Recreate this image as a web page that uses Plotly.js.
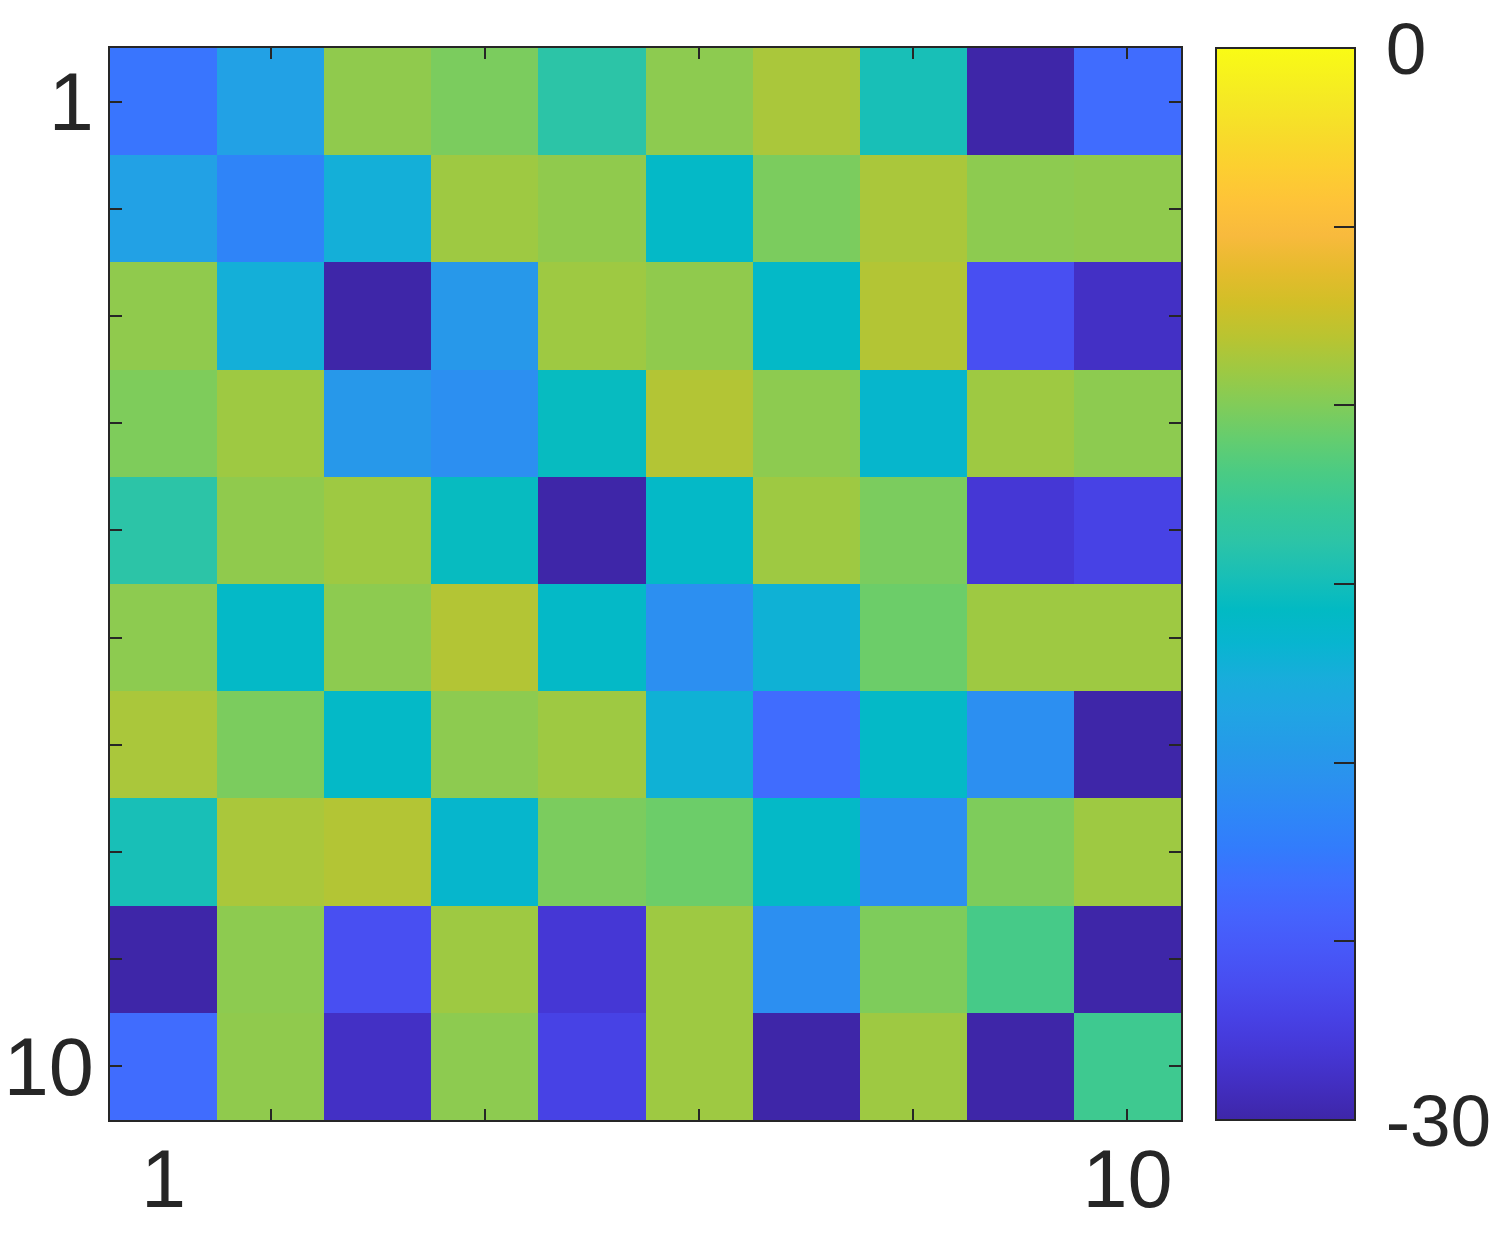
<!DOCTYPE html>
<html>
<head>
<meta charset="utf-8">
<script src="https://cdn.plot.ly/plotly-3.0.1.min.js"></script>
<style>
  body { margin: 0; background: #fff; }
  #plotArea { width: 1498px; height: 1238px; }
</style>
</head>
<body>
<div id="plotArea"></div>
<script>
var rowIdx = [1, 2, 3, 4, 5, 6, 7, 8, 9, 10];
var colIdx = [1, 2, 3, 4, 5, 6, 7, 8, 9, 10];

var row1 = [-22.9, -19.0, -9.5, -10.2, -13.8, -9.6, -8.6, -14.8, -30.0, -23.6];
var row2 = [-19.0, -21.7, -17.4, -9.0, -9.5, -16.0, -10.2, -8.6, -9.6, -9.5];
var row3 = [-9.5, -17.4, -30.0, -19.8, -9.0, -9.5, -16.0, -8.3, -26.0, -28.8];
var row4 = [-10.1, -9.0, -19.8, -20.7, -15.5, -8.3, -9.6, -16.4, -9.0, -9.6];
var row5 = [-13.8, -9.5, -9.0, -15.5, -30.0, -16.0, -9.0, -10.2, -28.1, -27.1];
var row6 = [-9.6, -16.0, -9.6, -8.3, -16.0, -20.7, -17.1, -10.7, -9.0, -9.0];
var row7 = [-8.6, -10.2, -16.0, -9.6, -9.0, -17.1, -23.6, -16.0, -20.7, -30.0];
var row8 = [-14.8, -8.6, -8.3, -16.4, -10.2, -10.7, -16.0, -20.7, -10.1, -9.0];
var row9 = [-30.0, -9.6, -26.0, -9.0, -28.1, -9.0, -20.7, -10.1, -12.1, -30.0];
var row10 = [-23.6, -9.5, -28.8, -9.6, -27.1, -9.0, -30.0, -9.0, -30.0, -12.5];

var zRows = [row1, row2, row3, row4, row5, row6, row7, row8, row9, row10];

var xTickMarks = [2, 4, 6, 8, 10];
var xLabelVals = [1, 10];
var xLabelText = ["1", "10"];
var yLabelText = ["1", "", "", "", "", "", "", "", "", "10"];
var cbTickVals = [-30, -25, -20, -15, -10, -5, 0];
var cbTickText = ["\u2009-30", "", "", "", "", "", "\u20090"];

// parula, sampled from the 64-entry map
var parulaIdx = [0, 2, 4, 6, 8, 10, 12, 14, 16, 18, 20, 22, 24, 26, 28, 30, 32,
  34, 36, 38, 40, 42, 44, 46, 48, 50, 52, 54, 56, 58, 60, 63];
var parulaRgb = [
  [62, 38, 168], [66, 46, 192], [69, 55, 213], [71, 65, 229], [72, 77, 240],
  [71, 88, 248], [69, 99, 253], [62, 111, 255], [50, 124, 252], [46, 135, 247],
  [43, 145, 239], [37, 155, 232], [32, 165, 227], [24, 173, 219], [8, 181, 208],
  [2, 186, 195], [25, 191, 182], [44, 196, 167], [55, 200, 151], [74, 203, 132],
  [100, 205, 111], [129, 204, 89], [157, 201, 67], [185, 196, 49], [209, 191, 39],
  [230, 187, 45], [248, 186, 61], [254, 195, 56], [252, 207, 48], [247, 220, 42],
  [245, 233, 36], [249, 251, 21]
];
var parula = parulaIdx.map(function (idx, k) {
  var c = parulaRgb[k];
  return [idx / 63, "rgb(" + c[0] + "," + c[1] + "," + c[2] + ")"];
});

var ink = "#262626";
var font = "Liberation Sans, Arial, sans-serif";

var heat = {
  type: "heatmap",
  x: colIdx,
  y: rowIdx,
  z: zRows,
  zmin: -30,
  zmax: 0,
  colorscale: parula,
  hoverinfo: "x+y+z",
  colorbar: {
    x: 1.0327,
    xanchor: "left",
    xpad: 0,
    ypad: 0,
    y: 0.5,
    yanchor: "middle",
    len: 1,
    lenmode: "fraction",
    thickness: 139,
    thicknessmode: "pixels",
    outlinewidth: 2,
    outlinecolor: ink,
    tickmode: "array",
    tickvals: cbTickVals,
    ticktext: cbTickText,
    ticks: "inside",
    ticklen: 22,
    tickwidth: 2,
    tickcolor: ink,
    tickfont: { family: font, size: 73, color: ink }
  }
};

// empty trace so the label-only x axis gets drawn
var labelAxis = {
  type: "scatter",
  x: [],
  y: [],
  xaxis: "x2",
  yaxis: "y",
  hoverinfo: "skip",
  showlegend: false
};

var layout = {
  width: 1498,
  height: 1238,
  margin: { l: 110, r: 317, t: 48, b: 118, autoexpand: false },
  paper_bgcolor: "#ffffff",
  plot_bgcolor: "#ffffff",
  showlegend: false,
  xaxis: {
    range: [0.5, 10.5],
    tickmode: "array",
    tickvals: xTickMarks,
    showticklabels: false,
    ticks: "inside",
    ticklen: 11,
    tickwidth: 2,
    tickcolor: ink,
    showline: true,
    linecolor: ink,
    linewidth: 2,
    mirror: "ticks",
    showgrid: false,
    zeroline: false
  },
  xaxis2: {
    overlaying: "x",
    anchor: "y",
    side: "bottom",
    range: [0.5, 10.5],
    tickmode: "array",
    tickvals: xLabelVals,
    ticktext: xLabelText,
    ticks: "",
    ticklabelstandoff: 5,
    tickfont: { family: font, size: 81, color: ink },
    showline: false,
    showgrid: false,
    zeroline: false
  },
  yaxis: {
    range: [10.5, 0.5],
    tickmode: "array",
    tickvals: rowIdx,
    ticktext: yLabelText,
    ticks: "inside",
    ticklen: 12,
    tickwidth: 2,
    tickcolor: ink,
    ticklabelstandoff: -2,
    tickfont: { family: font, size: 81, color: ink },
    showline: true,
    linecolor: ink,
    linewidth: 2,
    mirror: "ticks",
    showgrid: false,
    zeroline: false
  }
};

Plotly.newPlot("plotArea", [heat, labelAxis], layout, { displayModeBar: false });
</script>
</body>
</html>
